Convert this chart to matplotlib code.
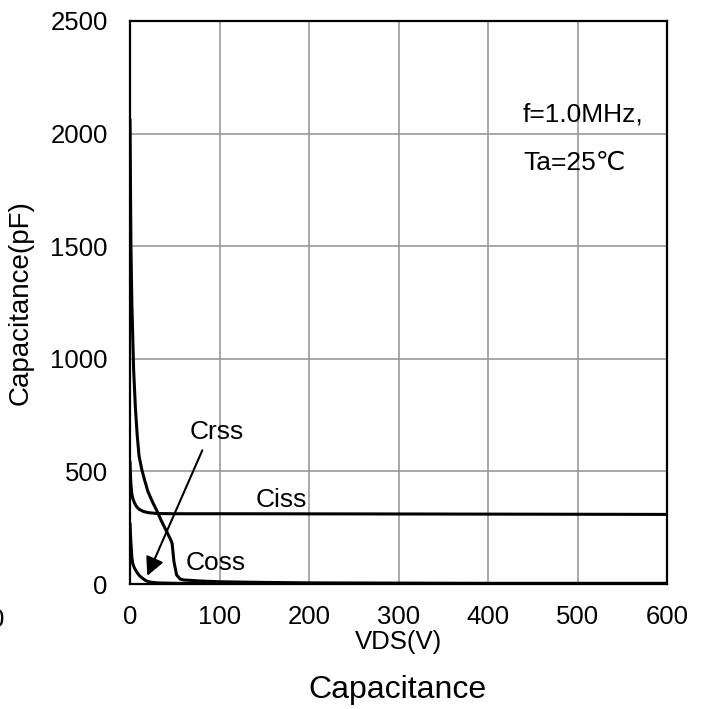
import matplotlib
matplotlib.use('Agg')
import matplotlib.pyplot as plt

plt.rcParams['font.family'] = ['Liberation Sans', 'DejaVu Sans']

# Capacitance vs VDS
vds_ciss = [0, 0.5, 1, 2, 3, 5, 7, 10, 15, 20, 30, 50, 100, 300, 600]
ciss = [540, 480, 440, 400, 380, 360, 345, 332, 322, 317, 313, 312, 312, 311, 309]

vds_coss = [0, 0.5, 1, 2, 3, 4, 6, 8, 10, 13, 16, 20, 25, 30, 35, 40, 45, 47, 49, 52, 56, 60, 80, 100, 150, 200, 300, 400, 500, 600]
coss = [2060, 1750, 1500, 1250, 1100, 950, 780, 660, 570, 510, 465, 410, 365, 325, 280, 240, 200, 180, 100, 40, 22, 18, 13, 10, 7, 5, 4, 3, 3, 3]

vds_crss = [0, 0.5, 1, 2, 3, 5, 8, 11, 14, 18, 22, 30, 50, 100, 600]
crss = [265, 220, 180, 120, 90, 70, 50, 35, 25, 14, 9, 5, 3, 2, 1]

xticks = [0, 100, 200, 300, 400, 500, 600]
yticks = [0, 500, 1000, 1500, 2000, 2500]

fig = plt.figure(figsize=(7.03, 7.09), dpi=100)
ax = fig.add_axes([0.185, 0.1763, 0.764, 0.7941])

ax.plot(vds_ciss, ciss, color='black', lw=2.2)
ax.plot(vds_coss, coss, color='black', lw=2.2)
ax.plot(vds_crss, crss, color='black', lw=2.2)

ax.set_xlim(0, 600)
ax.set_ylim(0, 2500)
ax.set_xticks(xticks)
ax.set_yticks(yticks)
ax.tick_params(length=0, labelsize=18.5)
ax.tick_params(axis='x', pad=15)
ax.tick_params(axis='y', pad=16)
ax.grid(True, color='#999999', lw=1.2)
ax.set_axisbelow(True)
for side in ['left', 'right', 'top', 'bottom']:
    ax.spines[side].set_linewidth(1.6)
    ax.spines[side].set_color('black')

ax.set_xlabel('VDS(V)', fontsize=18.5, labelpad=1)
ax.set_ylabel('Capacitance(pF)', fontsize=20, labelpad=12)

# curve labels
ax.text(140, 373, 'Ciss', fontsize=19, va='center')
ax.text(62, 93, 'Coss', fontsize=19, va='center')
ax.text(67, 676, 'Crss', fontsize=19, va='center')
ax.annotate('', xy=(18, 25), xytext=(82, 605),
            arrowprops=dict(arrowstyle='-|>', color='black', lw=1.5, mutation_scale=28))

ax.text(439, 2084, 'f=1.0MHz,', fontsize=19, va='center')
ax.text(439, 1871, 'Ta=25℃', fontsize=19, va='center')

fig.text(0.565, 0.027, 'Capacitance', fontsize=23, ha='center', va='center')
# clipped tick label at the far left edge
fig.text(-0.014, 0.125, '0', fontsize=18.5, ha='left', va='center')

fig.savefig('out.png', dpi=100)
